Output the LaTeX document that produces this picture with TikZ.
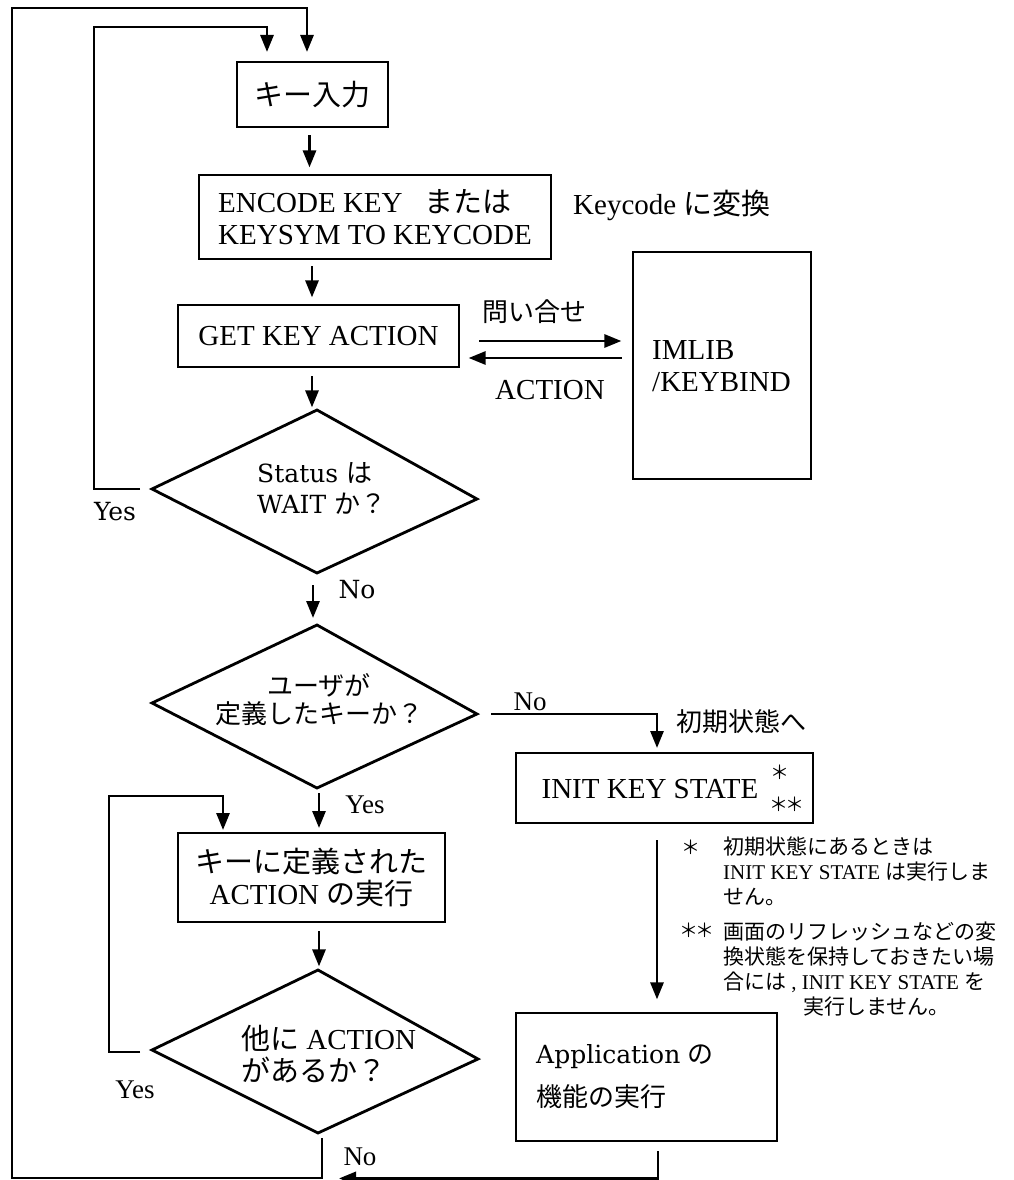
\documentclass[tikz,border=0pt]{standalone}
\usepackage{fontspec}
\setmainfont{Liberation Serif}
\newfontfamily\jp{Noto Sans CJK JP}
\newfontfamily\luc{DejaVu Serif}
\usetikzlibrary{arrows.meta}
\newcommand\jt[1]{{\jp #1}}
\newcommand\lt[1]{{\luc #1}}
\newcommand\twoast{＊\hspace{-3pt}＊}
\begin{document}
\begin{tikzpicture}[x=1pt,y=-1pt,
  ln/.style={line width=2.8pt},
  arr/.style={line width=2.8pt,-{Triangle[length=17pt,width=13pt]}},
  box/.style={draw,line width=2.8pt,inner sep=0pt},
  big/.style={inner sep=0pt,font=\fontsize{29}{32}\selectfont},
  lab/.style={inner sep=0pt,font=\fontsize{26}{30}\selectfont},
  luclab/.style={inner sep=0pt,font=\fontsize{25}{31}\selectfont\luc},
  ast/.style={inner sep=0pt,font=\fontsize{19}{19}\selectfont\jp},
  note/.style={inner sep=0pt,anchor=base west,font=\fontsize{21}{25}\selectfont}]
\useasboundingbox (0,0) rectangle (1013,1180);

% boxes
\node[box,big,minimum width=151pt,minimum height=65pt] (b1) at (312.5,94.5) {\jt{キー入力}};
\node[box,big,minimum width=352pt,minimum height=84pt,align=left] (b2) at (375,217) {ENCODE KEY\hspace{22pt}\jt{または}\\KEYSYM TO KEYCODE};
\node[box,big,minimum width=281pt,minimum height=62pt] (b3) at (318.5,336) {GET KEY ACTION};
\node[box,minimum width=178pt,minimum height=227pt] (im) at (722,365.5) {};
\node[big,anchor=west,align=left] (imt) at (652,366) {IMLIB\\/KEYBIND};
\node[box,minimum width=297pt,minimum height=70pt] (init) at (664.5,788) {};
\node[big] (initt) at (650,789) {INIT KEY STATE};
\node[ast] (st1) at (780,772) {＊};
\node[ast] (st2) at (787,804) {\twoast};
\node[box,big,minimum width=267pt,minimum height=89pt,align=center] (b4) at (311.5,877.5) {\jt{キーに定義された}\\ACTION \jt{の実行}};
\node[box,minimum width=261pt,minimum height=128pt] (app) at (646.5,1077) {};
\node[big,anchor=west] (appt1) at (536,1057) {\lt{\fontsize{25}{30}\selectfont Application} \jt{\fontsize{26}{30}\selectfont の}};
\node[lab,anchor=west] (appt2) at (536,1097) {\jt{機能の実行}};

% diamonds
\coordinate (d1t) at (317,410); \coordinate (d1l) at (152,489);
\coordinate (d1r) at (477,499); \coordinate (d1b) at (317,573);
\draw[ln,line join=miter] (d1t) -- (d1r) -- (d1b) -- (d1l) -- cycle;
\node[luclab,anchor=west,align=left] (d1txt) at (257,488) {Status \jt{\fontsize{26}{31}\selectfont は}\\WAIT \jt{\fontsize{26}{31}\selectfont か？}};

\coordinate (d2t) at (317,625); \coordinate (d2l) at (152,703);
\coordinate (d2r) at (477,714); \coordinate (d2b) at (317,788);
\draw[ln,line join=miter] (d2t) -- (d2r) -- (d2b) -- (d2l) -- cycle;
\node[lab,align=center,font=\fontsize{26}{28}\selectfont] (d2txt) at (319,700) {\jt{ユーザが}\\\jt{定義したキーか？}};

\coordinate (d3t) at (318,970); \coordinate (d3l) at (152,1050);
\coordinate (d3r) at (478,1059); \coordinate (d3b) at (318,1133);
\draw[ln,line join=miter] (d3t) -- (d3r) -- (d3b) -- (d3l) -- cycle;
\node[big,anchor=west,align=left] (d3txt) at (241,1054) {\jt{他に} ACTION\\\jt{があるか？}};

% side labels
\node[big,anchor=west] (kc) at (573,205) {Keycode \jt{に変換}};
\node[lab,anchor=west] (toi) at (482,312) {\jt{問い合せ}};
\node[big] (act) at (550,390) {ACTION};
\node[luclab] (yes1) at (115,512) {Yes};
\node[luclab] (no1) at (357,590) {No};
\node[inner sep=0pt,font=\fontsize{27}{30}\selectfont] (no2) at (530,702) {No};
\node[lab,anchor=west] (shoki) at (676,722) {\jt{初期状態へ}};
\node[inner sep=0pt,font=\fontsize{27}{30}\selectfont] (yes2) at (365,805) {Yes};
\node[inner sep=0pt,font=\fontsize{27}{30}\selectfont] (yes3) at (135,1090) {Yes};
\node[inner sep=0pt,font=\fontsize{27}{30}\selectfont] (no3) at (360,1157) {No};

% notes
\node[ast] (ns1) at (691,847) {＊};
\node[note] (n1a) at (723,854) {\jt{初期状態にあるときは}};
\node[note] (n1b) at (723,879) {INIT KEY STATE \jt{は実行しま}};
\node[note] (n1c) at (723,904) {\jt{せん。}};
\node[ast] (ns2) at (697,930) {\twoast};
\node[note] (n2a) at (723,939) {\jt{画面のリフレッシュなどの変}};
\node[note] (n2b) at (723,964) {\jt{換状態を保持しておきたい場}};
\node[note] (n2c) at (723,989) {\jt{合には} , INIT KEY STATE \jt{を}};
\node[note] (n2d) at (803,1014) {\jt{実行しません。}};

% connectors
\draw[arr] (b1.south) ++(-3,7) -- ++(0,32);
\draw[arr] (b2.south) ++(-63,6) -- ++(0,31);
\draw[arr] (b3.south) ++(-6.5,8) -- ++(0,31);
\draw[arr] (b3.east) ++(19,5) -- ++(142,0);
\draw[arr] (im.west) ++(-10,-7.5) -- ++(-153,0);
\draw[arr] (d1b) ++(-4,12) -- ++(0,33);
\draw[arr] (d2r) ++(14,0) -- ++(166,0) -- ++(0,34);
\draw[arr] (d2b) ++(2,5) -- ++(0,35);
\draw[arr] (b4.south) ++(7.5,8) -- ++(0,35);
\draw[arr] (init.south) ++(-7.5,16) -- ++(0,159);
% loops
\coordinate (tgtOuter) at (307,52);
\coordinate (tgtInner) at (267,52);
\draw[arr] (d1l) ++(-12,0) -- ++(-46,0) |- (267,27) -- (tgtInner);
\draw[arr] (d3b) ++(4,5) -- ++(0,40) -| (12,8) -| (tgtOuter);
\draw[arr] (d3l) ++(-12,2) -- ++(-31,0) |- (223,796) -- ++(0,34);
\draw[arr] (app.south) ++(11.5,9) -- ++(0,27) -- ++(-319,0);
\end{tikzpicture}
\end{document}
